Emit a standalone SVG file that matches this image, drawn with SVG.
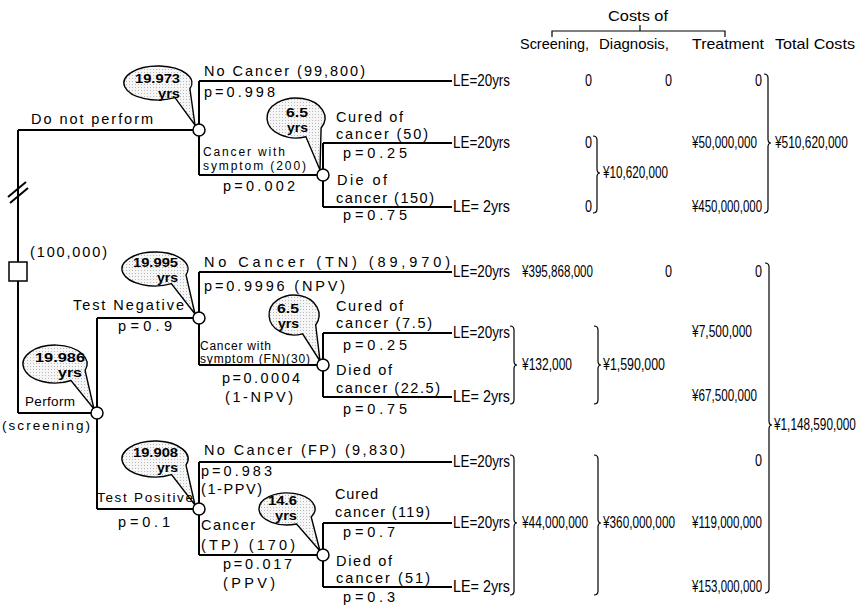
<svg xmlns="http://www.w3.org/2000/svg" width="861" height="606" viewBox="0 0 861 606">
<defs>
<pattern id="dots" width="3" height="3" patternUnits="userSpaceOnUse"><rect width="3" height="3" fill="#f6f6f6"/><rect width="1" height="1" fill="#b8b8b8"/></pattern>
</defs>
<style>
.ln{stroke:#000;stroke-width:2;fill:none}
.br{stroke:#000;stroke-width:1.2;fill:none}
.nd{fill:#fff;stroke:#000;stroke-width:1.5}
.bub{fill:url(#dots);stroke:#000;stroke-width:1.4}
text{fill:#000}
.t{font-family:"Liberation Sans",Arial,sans-serif;font-size:14.5px}
.s{font-family:"Liberation Sans",Arial,sans-serif;font-size:12px}
.m{font-family:"Liberation Sans",Arial,sans-serif;font-size:13.5px}
.b{font-family:"Liberation Sans Narrow","Liberation Sans",Arial,sans-serif;font-size:13px;font-weight:bold}
.c{font-family:"Liberation Sans Narrow","Liberation Sans",Arial,sans-serif;font-size:15px}
.v{font-family:"Liberation Sans Narrow","Liberation Sans",Arial,sans-serif;font-size:16px}
</style>
<rect width="861" height="606" fill="#fff"/>

<g id="connectors">
<path class="ln" d="M18,130 V413 M18,130 H193 M18,413 H91"/>
<path class="ln" d="M8,197 L26,182 M10,203 L28,188"/>
<path class="ln" d="M199,81 V175 M199,81 H452 M199,175 H317"/>
<path class="ln" d="M323,143 V207 M323,143 H452 M323,207 H452"/>
<path class="ln" d="M97,318 V509 M97,318 H193 M97,509 H193"/>
<path class="ln" d="M199,272 V365 M199,272 H452 M199,365 H317"/>
<path class="ln" d="M323,333 V397 M323,333 H452 M323,397 H452"/>
<path class="ln" d="M199,462 V555 M199,462 H452 M199,555 H317"/>
<path class="ln" d="M323,523 V587 M323,523 H452 M323,587 H452"/>
</g>

<g id="decision-node">
<rect x="9" y="262" width="18" height="19" fill="#fff" stroke="#000" stroke-width="1.5"/>
<text class="t" x="30" y="257" textLength="77">(100,000)</text>
</g>

<g id="node-donot">
<path class="bub" d="M189.9,88.8 A34,17 0 1 0 175,97.7 L195,125 Z"/>
<circle class="nd" cx="199" cy="130" r="6"/>
<text class="b" x="180" y="83" text-anchor="end" textLength="45" lengthAdjust="spacingAndGlyphs">19.973</text>
<text class="b" x="180" y="98" text-anchor="end" textLength="22" lengthAdjust="spacingAndGlyphs">yrs</text>
</g>
<g id="node-donot-cancer">
<path class="bub" d="M321.1,128 A29,20 0 1 0 305.9,136.8 L320,170 Z"/>
<circle class="nd" cx="323" cy="175" r="6"/>
<text class="b" x="308" y="117" text-anchor="end" textLength="22" lengthAdjust="spacingAndGlyphs">6.5</text>
<text class="b" x="308" y="132" text-anchor="end" textLength="21" lengthAdjust="spacingAndGlyphs">yrs</text>
</g>
<g id="node-perform">
<path class="bub" d="M85.1,370.5 A32,19 0 1 0 71,380.5 L94,409 Z"/>
<circle class="nd" cx="97" cy="413" r="6"/>
<text class="b" x="85" y="362" text-anchor="end" textLength="50" lengthAdjust="spacingAndGlyphs">19.986</text>
<text class="b" x="82" y="377" text-anchor="end" textLength="24" lengthAdjust="spacingAndGlyphs">yrs</text>
</g>
<g id="node-negative">
<path class="bub" d="M186,274.8 A33,17 0 1 0 171.5,283.7 L195,314 Z"/>
<circle class="nd" cx="199" cy="318" r="6"/>
<text class="b" x="178" y="267" text-anchor="end" textLength="45" lengthAdjust="spacingAndGlyphs">19.995</text>
<text class="b" x="178" y="282" text-anchor="end" textLength="21" lengthAdjust="spacingAndGlyphs">yrs</text>
</g>
<g id="node-negative-cancer">
<path class="bub" d="M315.7,325 A25,20 0 1 0 302.6,333.8 L320,361 Z"/>
<circle class="nd" cx="323" cy="365" r="6"/>
<text class="b" x="299" y="313" text-anchor="end" textLength="22" lengthAdjust="spacingAndGlyphs">6.5</text>
<text class="b" x="299" y="328" text-anchor="end" textLength="21" lengthAdjust="spacingAndGlyphs">yrs</text>
</g>
<g id="node-positive">
<path class="bub" d="M186,465.2 A33,18 0 1 0 171.5,474.6 L195,505 Z"/>
<circle class="nd" cx="199" cy="509" r="6"/>
<text class="b" x="178" y="457" text-anchor="end" textLength="45" lengthAdjust="spacingAndGlyphs">19.908</text>
<text class="b" x="178" y="472" text-anchor="end" textLength="21" lengthAdjust="spacingAndGlyphs">yrs</text>
</g>
<g id="node-positive-cancer">
<path class="bub" d="M311.2,517 A28,16 0 1 0 296.6,524 L320,551 Z"/>
<circle class="nd" cx="323" cy="555" r="6"/>
<text class="b" x="297" y="505" text-anchor="end" textLength="29" lengthAdjust="spacingAndGlyphs">14.6</text>
<text class="b" x="297" y="520" text-anchor="end" textLength="22" lengthAdjust="spacingAndGlyphs">yrs</text>
</g>

<g id="branch-labels">
<text class="t" x="31" y="124" textLength="122">Do not perform</text>
<text class="t" x="204" y="76" textLength="161">No Cancer (99,800)</text>
<text class="t" x="204" y="97" textLength="71">p=0.998</text>
<text class="s" x="203" y="156" textLength="82">Cancer with</text>
<text class="s" x="203" y="170" textLength="103">symptom (200)</text>
<text class="t" x="223" y="191" textLength="72">p=0.002</text>
<text class="t" x="336" y="122" textLength="67">Cured of</text>
<text class="t" x="336" y="139" textLength="92">cancer (50)</text>
<text class="t" x="343" y="158" textLength="64">p=0.25</text>
<text class="t" x="337" y="185" textLength="50">Die of</text>
<text class="t" x="336" y="203" textLength="98">cancer (150)</text>
<text class="t" x="343" y="220" textLength="64">p=0.75</text>

<text class="m" x="25" y="406" textLength="50">Perform</text>
<text class="m" x="2" y="430" textLength="88">(screening)</text>

<text class="t" x="73" y="310" textLength="111">Test Negative</text>
<text class="t" x="118" y="331" textLength="54">p=0.9</text>
<text class="t" x="204" y="267" textLength="246">No Cancer (TN) (89,970)</text>
<text class="t" x="204" y="291" textLength="141">p=0.9996 (NPV)</text>
<text class="s" x="200" y="350" font-size="11" textLength="71">Cancer with</text>
<text class="s" x="200" y="363" font-size="11" textLength="110">symptom (FN)(30)</text>
<text class="t" x="222" y="383" textLength="78">p=0.0004</text>
<text class="t" x="225" y="402" textLength="68">(1-NPV)</text>
<text class="t" x="336" y="311" textLength="67">Cured of</text>
<text class="t" x="336" y="328" textLength="96">cancer (7.5)</text>
<text class="t" x="343" y="350" textLength="64">p=0.25</text>
<text class="t" x="336" y="375" textLength="56">Died of</text>
<text class="t" x="336" y="393" textLength="104">cancer (22.5)</text>
<text class="t" x="343" y="414" textLength="64">p=0.75</text>

<text class="m" x="97" y="502" textLength="96">Test Positive</text>
<text class="t" x="118" y="527" textLength="52">p=0.1</text>
<text class="t" x="204" y="455" textLength="201">No Cancer (FP) (9,830)</text>
<text class="t" x="201" y="476" textLength="71">p=0.983</text>
<text class="t" x="201" y="494" textLength="61">(1-PPV)</text>
<text class="t" x="201" y="530" textLength="54">Cancer</text>
<text class="t" x="201" y="550" textLength="94">(TP) (170)</text>
<text class="t" x="223" y="569" textLength="69">p=0.017</text>
<text class="t" x="223" y="588" textLength="52">(PPV)</text>
<text class="t" x="335" y="499" textLength="43">Cured</text>
<text class="t" x="335" y="517" textLength="95">cancer (119)</text>
<text class="t" x="343" y="537" textLength="52">p=0.7</text>
<text class="t" x="336" y="566" textLength="56">Died of</text>
<text class="t" x="336" y="583" textLength="94">cancer (51)</text>
<text class="t" x="343" y="602" textLength="52">p=0.3</text>
</g>

<g id="outcomes">
<text class="v" x="453" y="86" textLength="57" lengthAdjust="spacingAndGlyphs">LE=20yrs</text>
<text class="v" x="453" y="148" textLength="57" lengthAdjust="spacingAndGlyphs">LE=20yrs</text>
<text class="v" x="453" y="212" textLength="57" lengthAdjust="spacingAndGlyphs">LE= 2yrs</text>
<text class="v" x="453" y="277" textLength="57" lengthAdjust="spacingAndGlyphs">LE=20yrs</text>
<text class="v" x="453" y="338" textLength="57" lengthAdjust="spacingAndGlyphs">LE=20yrs</text>
<text class="v" x="453" y="402" textLength="57" lengthAdjust="spacingAndGlyphs">LE= 2yrs</text>
<text class="v" x="453" y="467" textLength="57" lengthAdjust="spacingAndGlyphs">LE=20yrs</text>
<text class="v" x="453" y="528" textLength="57" lengthAdjust="spacingAndGlyphs">LE=20yrs</text>
<text class="v" x="453" y="592" textLength="57" lengthAdjust="spacingAndGlyphs">LE= 2yrs</text>
</g>

<g id="cost-table">
<text class="c" x="638" y="21" text-anchor="middle" textLength="60" lengthAdjust="spacingAndGlyphs">Costs of</text>
<path class="br" d="M552,37 V31 H725 V37 M640,31 V25"/>
<text class="c" x="520" y="49" textLength="69" lengthAdjust="spacingAndGlyphs">Screening,</text>
<text class="c" x="599" y="49" textLength="70" lengthAdjust="spacingAndGlyphs">Diagnosis,</text>
<text class="c" x="692" y="49" textLength="72" lengthAdjust="spacingAndGlyphs">Treatment</text>
<text class="c" x="775" y="49" textLength="80" lengthAdjust="spacingAndGlyphs">Total Costs</text>

<text class="v" x="585" y="86" textLength="7" lengthAdjust="spacingAndGlyphs">0</text>
<text class="v" x="665" y="86" textLength="7" lengthAdjust="spacingAndGlyphs">0</text>
<text class="v" x="755" y="86" textLength="7" lengthAdjust="spacingAndGlyphs">0</text>
<text class="v" x="585" y="148" textLength="7" lengthAdjust="spacingAndGlyphs">0</text>
<text class="v" x="585" y="212" textLength="7" lengthAdjust="spacingAndGlyphs">0</text>
<text class="v" x="603" y="178" textLength="65" lengthAdjust="spacingAndGlyphs">¥10,620,000</text>
<text class="v" x="692" y="148" textLength="65" lengthAdjust="spacingAndGlyphs">¥50,000,000</text>
<text class="v" x="692" y="212" textLength="70" lengthAdjust="spacingAndGlyphs">¥450,000,000</text>
<text class="v" transform="translate(775,148) scale(0.7,1)" x="0" y="0" textLength="104" lengthAdjust="spacingAndGlyphs">¥510,620,000</text>

<text class="v" x="522" y="277" textLength="71" lengthAdjust="spacingAndGlyphs">¥395,868,000</text>
<text class="v" x="665" y="277" textLength="7" lengthAdjust="spacingAndGlyphs">0</text>
<text class="v" x="755" y="277" textLength="7" lengthAdjust="spacingAndGlyphs">0</text>
<text class="v" x="522" y="370" textLength="50" lengthAdjust="spacingAndGlyphs">¥132,000</text>
<text class="v" x="603" y="370" textLength="62" lengthAdjust="spacingAndGlyphs">¥1,590,000</text>
<text class="v" x="692" y="337" textLength="60" lengthAdjust="spacingAndGlyphs">¥7,500,000</text>
<text class="v" x="692" y="401" textLength="65" lengthAdjust="spacingAndGlyphs">¥67,500,000</text>
<text class="v" transform="translate(774,430) scale(0.7,1)" x="0" y="0" textLength="117" lengthAdjust="spacingAndGlyphs">¥1,148,590,000</text>

<text class="v" x="755" y="466" textLength="7" lengthAdjust="spacingAndGlyphs">0</text>
<text class="v" x="522" y="528" textLength="66" lengthAdjust="spacingAndGlyphs">¥44,000,000</text>
<text class="v" x="603" y="528" textLength="72" lengthAdjust="spacingAndGlyphs">¥360,000,000</text>
<text class="v" x="692" y="528" textLength="70" lengthAdjust="spacingAndGlyphs">¥119,000,000</text>
<text class="v" x="692" y="592" textLength="70" lengthAdjust="spacingAndGlyphs">¥153,000,000</text>

<path class="br" d="M593,136 Q597,136 597,140 V169 Q597,173 600,173 Q597,173 597,177 V209 Q597,213 593,213"/>
<path class="br" d="M764,74 Q768,74 768,78 V139 Q768,143 771,143 Q768,143 768,147 V209 Q768,213 764,213"/>
<path class="br" d="M510,326 Q514,326 514,330 V361 Q514,365 517,365 Q514,365 514,369 V400 Q514,404 510,404"/>
<path class="br" d="M594,326 Q598,326 598,330 V361 Q598,365 601,365 Q598,365 598,369 V400 Q598,404 594,404"/>
<path class="br" d="M765,263 Q769,263 769,267 V421 Q769,425 772,425 Q769,425 769,429 V589 Q769,593 765,593"/>
<path class="br" d="M510,455 Q514,455 514,459 V519 Q514,523 517,523 Q514,523 514,527 V591 Q514,595 510,595"/>
<path class="br" d="M594,455 Q598,455 598,459 V519 Q598,523 601,523 Q598,523 598,527 V591 Q598,595 594,595"/>
</g>
</svg>
